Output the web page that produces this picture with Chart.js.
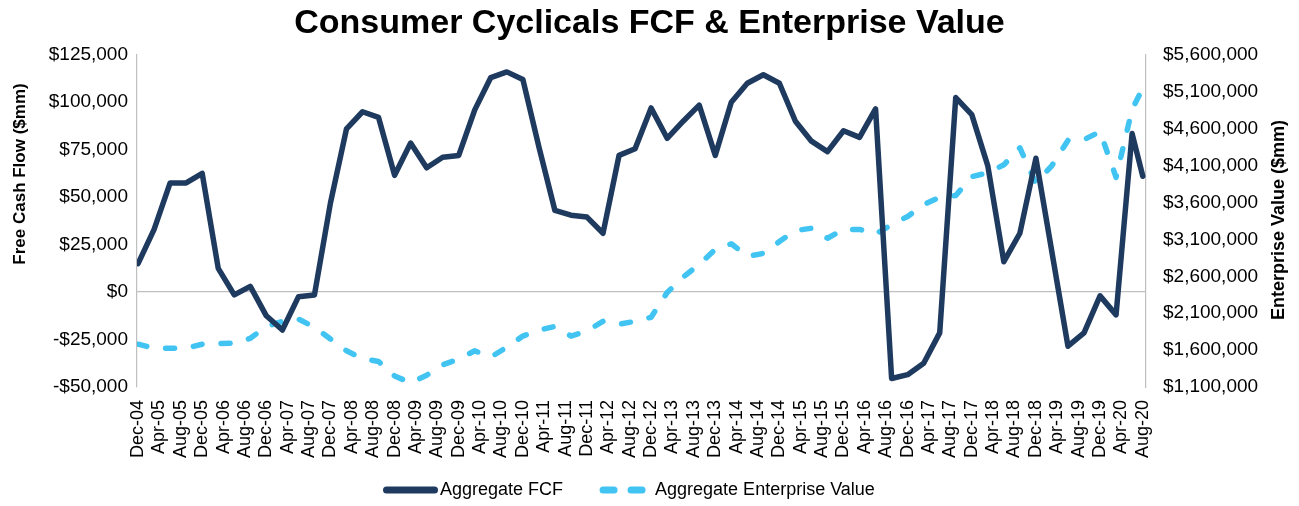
<!DOCTYPE html>
<html>
<head>
<meta charset="utf-8">
<title>Consumer Cyclicals FCF & Enterprise Value</title>
<script src="https://cdn.jsdelivr.net/npm/chart.js@4.4.1/dist/chart.umd.min.js"></script>
<style>
    body { margin: 0; background: #fff; }
    canvas { display: block; }
</style>
</head>
<body>
<canvas id="fcfChart" width="1299" height="506"></canvas>
<script>
// quarterly periods (last point is Aug-20)
const periods = [
    'Dec-04',
    'Mar-05', 'Jun-05', 'Sep-05', 'Dec-05',
    'Mar-06', 'Jun-06', 'Sep-06', 'Dec-06',
    'Mar-07', 'Jun-07', 'Sep-07', 'Dec-07',
    'Mar-08', 'Jun-08', 'Sep-08', 'Dec-08',
    'Mar-09', 'Jun-09', 'Sep-09', 'Dec-09',
    'Mar-10', 'Jun-10', 'Sep-10', 'Dec-10',
    'Mar-11', 'Jun-11', 'Sep-11', 'Dec-11',
    'Mar-12', 'Jun-12', 'Sep-12', 'Dec-12',
    'Mar-13', 'Jun-13', 'Sep-13', 'Dec-13',
    'Mar-14', 'Jun-14', 'Sep-14', 'Dec-14',
    'Mar-15', 'Jun-15', 'Sep-15', 'Dec-15',
    'Mar-16', 'Jun-16', 'Sep-16', 'Dec-16',
    'Mar-17', 'Jun-17', 'Sep-17', 'Dec-17',
    'Mar-18', 'Jun-18', 'Sep-18', 'Dec-18',
    'Mar-19', 'Jun-19', 'Sep-19', 'Dec-19',
    'Mar-20', 'Jun-20', 'Aug-20'
];

const aggregateFCF = [
    15000,
    33000, 57500, 57500, 62500,
    12500, -1500, 3000, -12500,
    -20000, -2500, -1500, 47000,
    86000, 95000, 92000, 61500,
    78500, 65500, 71000, 72000,
    96000, 113000, 116000, 112000,
    76500, 43000, 40500, 39500,
    31000, 72000, 75500, 97000,
    81000, 90000, 98500, 72000,
    100000, 110000, 114500, 110000,
    90000, 79500, 74000, 85000,
    81500, 96500, -45500, -43500,
    -37500, -21500, 102500, 93500,
    66500, 16000, 31000, 70500,
    21000, -28500, -21500, -2000,
    -12000, 83500, 61000
];

const aggregateEV = [
    1680000,
    1625000, 1625000, 1625000, 1680000,
    1690000, 1695000, 1760000, 1920000,
    1990000, 2020000, 1910000, 1750000,
    1590000, 1485000, 1445000, 1250000,
    1155000, 1260000, 1400000, 1480000,
    1590000, 1505000, 1640000, 1790000,
    1870000, 1920000, 1790000, 1860000,
    1990000, 1950000, 1990000, 2045000,
    2380000, 2590000, 2760000, 2965000,
    3040000, 2870000, 2910000, 3070000,
    3220000, 3250000, 3115000, 3235000,
    3235000, 3170000, 3300000, 3410000,
    3570000, 3670000, 3695000, 3950000,
    4000000, 4110000, 4340000, 3860000,
    4100000, 4440000, 4450000, 4560000,
    3940000, 4860000, 5150000
];

// axis labels (every 4 months)
const tickLabels = [
    'Dec-04', 'Apr-05', 'Aug-05', 'Dec-05', 'Apr-06', 'Aug-06', 'Dec-06', 'Apr-07',
    'Aug-07', 'Dec-07', 'Apr-08', 'Aug-08', 'Dec-08', 'Apr-09', 'Aug-09', 'Dec-09',
    'Apr-10', 'Aug-10', 'Dec-10', 'Apr-11', 'Aug-11', 'Dec-11', 'Apr-12', 'Aug-12',
    'Dec-12', 'Apr-13', 'Aug-13', 'Dec-13', 'Apr-14', 'Aug-14', 'Dec-14', 'Apr-15',
    'Aug-15', 'Dec-15', 'Apr-16', 'Aug-16', 'Dec-16', 'Apr-17', 'Aug-17', 'Dec-17',
    'Apr-18', 'Aug-18', 'Dec-18', 'Apr-19', 'Aug-19', 'Dec-19', 'Apr-20', 'Aug-20'
];
const fcfTicks = [-50000, -25000, 0, 25000, 50000, 75000, 100000, 125000];
const evTicks = [1100000, 1600000, 2100000, 2600000, 3100000, 3600000, 4100000, 4600000, 5100000, 5600000];

const MONTHS = ['Jan', 'Feb', 'Mar', 'Apr', 'May', 'Jun', 'Jul', 'Aug', 'Sep', 'Oct', 'Nov', 'Dec'];

// months since Dec-04, used as the x value on the linear axis
function monthIndex(label) {
    const [mon, yy] = label.split('-');
    return (parseInt(yy, 10) - 4) * 12 + MONTHS.indexOf(mon) - 11;
}

function money(v) {
    return (v < 0 ? '-$' : '$') + Math.abs(v).toLocaleString('en-US');
}

const FONT = '"Liberation Sans", Arial, Helvetica, sans-serif';
Chart.defaults.font.family = FONT;
Chart.defaults.color = '#000';

const fcfColor = '#1F3A5F';
const evColor = '#41C4F2';

// axis titles (both read bottom to top, like the original)
const axisTitles = {
    id: 'axisTitles',
    afterDraw(chart) {
        const ctx = chart.ctx;
        ctx.save();
        ctx.font = 'bold 17px ' + FONT;
        ctx.fillStyle = '#000';
        ctx.textAlign = 'center';
        ctx.textBaseline = 'middle';

        ctx.save();
        ctx.translate(20, 174);
        ctx.rotate(-Math.PI / 2);
        ctx.fillText('Free Cash Flow ($mm)', 0, 0);
        ctx.restore();

        ctx.save();
        ctx.translate(1279, 220);
        ctx.rotate(-Math.PI / 2);
        ctx.font = 'bold 18px ' + FONT;
        ctx.fillText('Enterprise Value ($mm)', 0, 0);
        ctx.restore();

        ctx.restore();
    }
};

// legend under the axis labels
const bottomLegend = {
    id: 'bottomLegend',
    afterDraw(chart) {
        const ctx = chart.ctx;
        const y = 490;
        let x = 386.5;
        ctx.save();
        ctx.font = '18px ' + FONT;
        ctx.textBaseline = 'middle';
        ctx.textAlign = 'left';
        chart.data.datasets.forEach(ds => {
            const dashed = !!ds.borderDash;
            const len = dashed ? 40 : 48;
            ctx.strokeStyle = ds.borderColor;
            ctx.lineWidth = 7;
            ctx.lineCap = 'round';
            ctx.setLineDash(dashed ? [11, 17] : []);
            ctx.beginPath();
            ctx.moveTo(x, y);
            ctx.lineTo(x + len, y);
            ctx.stroke();
            ctx.setLineDash([]);
            const tx = x + len + (dashed ? 12 : 5.5);
            ctx.fillStyle = '#000';
            ctx.fillText(ds.label, tx, y);
            x = tx + ctx.measureText(ds.label).width + 40;
        });
        ctx.restore();
    }
};

const ctx = document.getElementById('fcfChart').getContext('2d');

new Chart(ctx, {
    type: 'line',
    data: {
        datasets: [{
            label: 'Aggregate FCF',
            data: periods.map((p, i) => ({ x: monthIndex(p), y: aggregateFCF[i] })),
            yAxisID: 'y',
            borderColor: fcfColor,
            backgroundColor: fcfColor,
            borderWidth: 5.5,
            borderJoinStyle: 'round',
            borderCapStyle: 'round',
            pointRadius: 0,
            tension: 0
        }, {
            label: 'Aggregate Enterprise Value',
            data: periods.map((p, i) => ({ x: monthIndex(p), y: aggregateEV[i] })),
            yAxisID: 'y1',
            borderColor: evColor,
            backgroundColor: evColor,
            borderWidth: 5.5,
            borderDash: [9, 19],
            borderJoinStyle: 'round',
            borderCapStyle: 'round',
            pointRadius: 0,
            tension: 0
        }]
    },
    options: {
        responsive: false,
        animation: false,
        layout: {
            padding: { left: 0, right: 0, top: 0, bottom: 40 }
        },
        plugins: {
            legend: { display: false },
            tooltip: { enabled: false },
            title: {
                display: true,
                text: 'Consumer Cyclicals FCF & Enterprise Value',
                color: '#000',
                font: { size: 34, weight: 'bold' },
                padding: { top: 3, bottom: 11 }
            }
        },
        scales: {
            x: {
                type: 'linear',
                min: -0.2,
                max: 188.6,
                afterBuildTicks: scale => {
                    scale.ticks = tickLabels.map((_, i) => ({ value: i * 4 }));
                },
                afterFit: scale => { scale.height = 79; },
                ticks: {
                    autoSkip: false,
                    maxRotation: 90,
                    minRotation: 90,
                    padding: 13,
                    color: '#000',
                    font: { size: 18 },
                    callback: (value, index) => tickLabels[index]
                },
                grid: { display: false, drawTicks: false },
                border: { display: false }
            },
            y: {
                position: 'left',
                min: -50000,
                max: 125000,
                afterBuildTicks: scale => {
                    scale.ticks = fcfTicks.map(v => ({ value: v }));
                },
                afterFit: scale => { scale.width = 137; },
                ticks: {
                    padding: 9,
                    color: '#000',
                    font: { size: 19 },
                    callback: v => money(v)
                },
                grid: {
                    drawTicks: false,
                    lineWidth: 1.2,
                    color: c => (c.tick && c.tick.value === 0) ? '#BFBFBF' : 'rgba(0,0,0,0)'
                },
                border: { color: '#BFBFBF', width: 1.2 }
            },
            y1: {
                position: 'right',
                min: 1100000,
                max: 5600000,
                afterBuildTicks: scale => {
                    scale.ticks = evTicks.map(v => ({ value: v }));
                },
                afterFit: scale => { scale.width = 153; },
                ticks: {
                    padding: 17,
                    color: '#000',
                    font: { size: 19 },
                    callback: v => money(v)
                },
                grid: { display: false, drawTicks: false },
                border: { color: '#BFBFBF', width: 1.2 }
            }
        }
    },
    plugins: [axisTitles, bottomLegend]
});
</script>
</body>
</html>
